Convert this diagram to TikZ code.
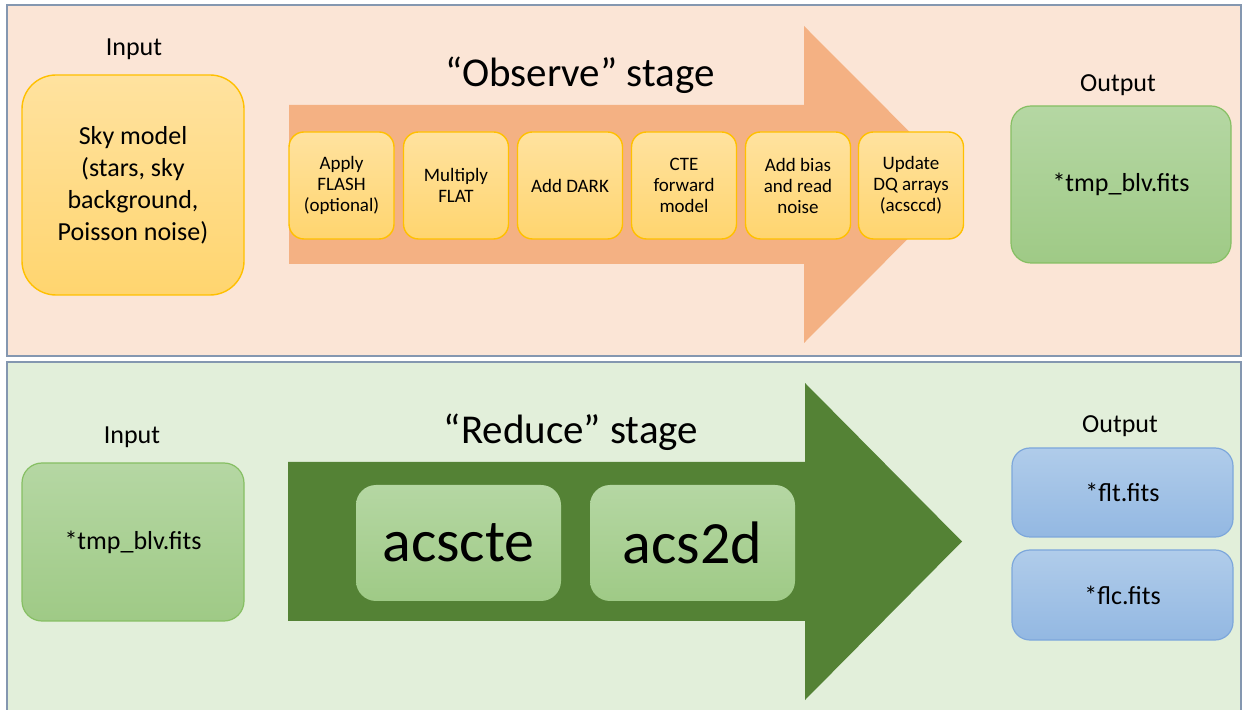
\documentclass[tikz,border=0pt]{standalone}
\usepackage{fontspec}
\setmainfont{Carlito}
\usetikzlibrary{positioning}

\definecolor{peachbg}{HTML}{FBE5D6}
\definecolor{greenbg}{HTML}{E2EFDA}
\definecolor{panelline}{HTML}{8497B0}
\definecolor{orangearrow}{HTML}{F4B183}
\definecolor{greenarrow}{HTML}{548235}
\definecolor{yellowtop}{HTML}{FFE29F}
\definecolor{yellowbot}{HTML}{FFD56F}
\definecolor{yellowline}{HTML}{FFC000}
\definecolor{greentop}{HTML}{B5D7A3}
\definecolor{greenbot}{HTML}{9FCA86}
\definecolor{greenline}{HTML}{86BF63}
\definecolor{bluetop}{HTML}{B0CCEA}
\definecolor{bluebot}{HTML}{93B8E2}
\definecolor{blueline}{HTML}{7DA7DB}

\begin{document}
\begin{tikzpicture}[x=0.5pt,y=-0.5pt,
  yellowbox/.style={draw=yellowline, line width=0.7pt, top color=yellowtop, bottom color=yellowbot,
    rounded corners=7.5pt, align=center, inner sep=1pt},
  greenbox/.style={draw=greenline, line width=0.6pt, top color=greentop, bottom color=greenbot,
    rounded corners=10pt, align=center},
  bluebox/.style={draw=blueline, line width=0.6pt, top color=bluetop, bottom color=bluebot,
    rounded corners=9pt, align=center},
  label/.style={font=\fontsize{13}{15}\selectfont},
  stage/.style={font=\fontsize{20.5}{23}\selectfont}]
\useasboundingbox (0,0) rectangle (1242,710);

% panels
\path[fill=peachbg, draw=panelline, line width=0.8pt] (7,5) rectangle (1241,356);
\path[fill=greenbg, draw=panelline, line width=0.8pt] (7,362) rectangle (1241,716);

% big arrows
\path[fill=orangearrow] (289,105) -- (804,105) -- (804,26) -- (962,184.5) -- (804,343) -- (804,264) -- (289,264) -- cycle;
\path[fill=greenarrow] (288,462) -- (805,462) -- (805,383) -- (962,541.5) -- (805,700) -- (805,621) -- (288,621) -- cycle;

% observe stage
\node[label] (in1) at (134,49) {Input};
\node[yellowbox, rounded corners=17pt, minimum width=111pt, minimum height=110pt,
  font=\fontsize{13}{16}\selectfont] (sky) at (133,185)
  {Sky model\\(stars, sky\\background,\\Poisson noise)};
\node[stage] (obs) at (580,75) {“Observe” stage};

\node[yellowbox, minimum width=52.5pt, minimum height=53.5pt, font=\fontsize{9.5}{10.5}\selectfont] (flash) at (341.5,185.5) {Apply\\FLASH\\(optional)};
\node[yellowbox, minimum width=52.5pt, minimum height=53.5pt, font=\fontsize{9.5}{10.5}\selectfont] (flat) at (456,185.5) {Multiply\\FLAT};
\node[yellowbox, minimum width=52.5pt, minimum height=53.5pt, font=\fontsize{9.5}{10.5}\selectfont] (dark) at (570,185.5) {Add DARK};
\node[yellowbox, minimum width=52.5pt, minimum height=53.5pt, font=\fontsize{9.5}{10.5}\selectfont] (cte) at (684,185.5) {CTE\\forward\\model};
\node[yellowbox, minimum width=52.5pt, minimum height=53.5pt, font=\fontsize{9.5}{10.5}\selectfont] (bias) at (798,185.5) {Add bias\\and read\\noise};
\node[yellowbox, minimum width=52.5pt, minimum height=53.5pt, font=\fontsize{9.5}{10.5}\selectfont] (dq) at (911,185.5) {Update\\DQ arrays\\(acsccd)};

\node[label] (out1) at (1118,85) {Output};
\node[greenbox, minimum width=110pt, minimum height=78.5pt, font=\fontsize{13}{15}\selectfont] (blv1) at (1121,184.5) {*tmp\_blv.fits};

% reduce stage
\node[label] (in2) at (132,437) {Input};
\node[greenbox, minimum width=111pt, minimum height=79pt, font=\fontsize{13}{15}\selectfont] (blv2) at (133,542) {*tmp\_blv.fits};
\node[stage] (red) at (571,432) {“Reduce” stage};

\node[greenbox, draw=none, minimum width=102.5pt, minimum height=58pt, font=\fontsize{30}{32}\selectfont] (cte2) at (458.5,543) {acscte};
\node[greenbox, draw=none, minimum width=102.5pt, minimum height=58pt, font=\fontsize{30}{32}\selectfont] (twod) at (692.5,543) {acs2d};

\node[label] (out2) at (1120,426) {Output};
\node[bluebox, minimum width=110.5pt, minimum height=44.5pt, font=\fontsize{13}{15}\selectfont] (flt) at (1122.5,492.5) {*flt.fits};
\node[bluebox, minimum width=110.5pt, minimum height=45pt, font=\fontsize{13}{15}\selectfont] (flc) at (1122.5,595) {*flc.fits};
\end{tikzpicture}
\end{document}
